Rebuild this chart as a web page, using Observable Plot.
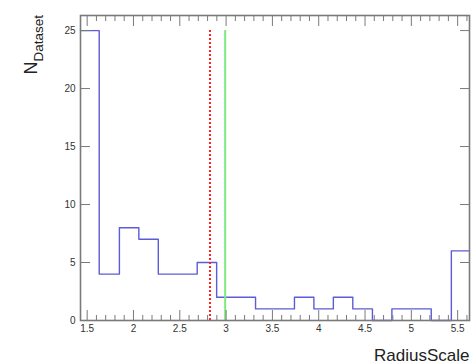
<!DOCTYPE html>
<html>
<head>
<meta charset="utf-8">
<script src="https://cdn.jsdelivr.net/npm/d3@7"></script>
<script src="https://cdn.jsdelivr.net/npm/@observablehq/plot@0.6"></script>
<style>
  html, body { margin: 0; padding: 0; background: #fff; }
  #chart { width: 471px; height: 363px; }
</style>
</head>
<body>
<div id="chart"></div>
<script>
// Histogram bin edges (RadiusScale) and counts per bin
const binEdges = [1.428, 1.630, 1.848, 2.058, 2.268, 2.478, 2.688, 2.898, 3.108, 3.318, 3.528,
                  3.738, 3.948, 4.158, 4.368, 4.580, 4.790, 4.998, 5.215, 5.432, 5.628];
const counts   = [25, 4, 8, 7, 4, 4, 5, 2, 2, 1, 1, 2, 1, 2, 1, 0, 1, 1, 0, 6];
// Reference lines
const redLineX = 2.826;
const greenLineX = 2.99;
const refLineTop = 25;
// Axis ticks
const xMajorTicks = [1.5, 2, 2.5, 3, 3.5, 4, 4.5, 5, 5.5];
const xMinorTicks = [1.6,1.7,1.8,1.9,2.1,2.2,2.3,2.4,2.6,2.7,2.8,2.9,3.1,3.2,3.3,3.4,3.6,3.7,3.8,3.9,
                     4.1,4.2,4.3,4.4,4.6,4.7,4.8,4.9,5.1,5.2,5.3,5.4,5.6];
const yMajorTicks = [0, 5, 10, 15, 20, 25];
const xTitle = "RadiusScale";
const yTitleMain = "N";
const yTitleSub = "Dataset";

const stepPts = counts.map((c, i) => ({x: binEdges[i], y: c}));
stepPts.push({x: binEdges[binEdges.length - 1], y: counts[counts.length - 1]});

const axisGray = "#7a7a7a";
const labelColor = "#333";

const plot = Plot.plot({
  width: 471,
  height: 363,
  marginLeft: 80,
  marginRight: 2,
  marginTop: 15,
  marginBottom: 43,
  style: {fontFamily: "'Liberation Sans', Arial, sans-serif", background: "#fff"},
  x: {domain: [binEdges[0], binEdges[binEdges.length - 1]]},
  y: {domain: [0, 26.3]},
  marks: [
    Plot.line(stepPts, {x: "x", y: "y", curve: "step-after", stroke: "#5c5cd6", strokeWidth: 1.4}),
    Plot.ruleX([redLineX], {y1: 0, y2: refLineTop, stroke: "#ff2020", strokeWidth: 2, strokeDasharray: "2,2"}),
    Plot.ruleX([greenLineX], {y1: 0, y2: refLineTop, stroke: "#80e880", strokeWidth: 2}),
    Plot.frame({stroke: axisGray, strokeWidth: 1.6}),
    Plot.axisX({anchor: "bottom", ticks: xMajorTicks, tickSize: -10, tickPadding: 14,
                tickFormat: d => String(d), label: null, stroke: axisGray, fill: labelColor, fontSize: 10}),
    Plot.axisX({anchor: "bottom", ticks: xMinorTicks, tickSize: -5, tickFormat: () => "", label: null, stroke: axisGray}),
    Plot.axisX({anchor: "top", ticks: xMajorTicks, tickSize: -10, tickFormat: () => "", label: null, stroke: axisGray}),
    Plot.axisX({anchor: "top", ticks: xMinorTicks, tickSize: -5, tickFormat: () => "", label: null, stroke: axisGray}),
    Plot.axisY({anchor: "left", ticks: yMajorTicks, tickSize: -10, tickPadding: 15,
                tickFormat: d => String(d), label: null, stroke: axisGray, fill: labelColor, fontSize: 10}),
    Plot.axisY({anchor: "right", ticks: yMajorTicks, tickSize: -10, tickFormat: () => "", label: null, stroke: axisGray}),
    Plot.text([xTitle], {frameAnchor: "bottom-right", dy: 40, lineAnchor: "bottom", textAnchor: "end",
                         fontSize: 17, fill: "#222"})
  ]
});

const svg = d3.select(plot);
const yt = svg.append("text")
  .attr("transform", "translate(37,15) rotate(-90)")
  .attr("text-anchor", "end")
  .attr("fill", "#222")
  .attr("font-family", "'Liberation Sans', Arial, sans-serif");
yt.append("tspan").attr("font-size", 18).text(yTitleMain);
yt.append("tspan").attr("font-size", 13.5).attr("dy", 6).text(yTitleSub);

document.getElementById("chart").appendChild(plot);
</script>
</body>
</html>
